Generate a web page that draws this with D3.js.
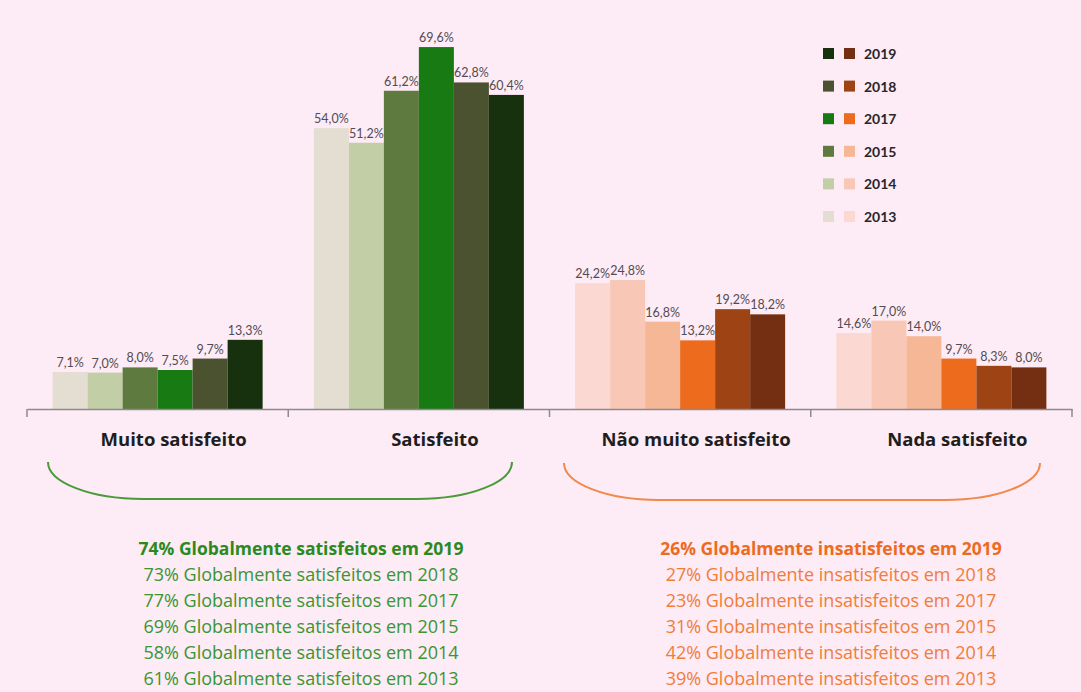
<!DOCTYPE html>
<html>
<head>
<meta charset="utf-8">
<script src="https://cdn.jsdelivr.net/npm/d3@7"></script>
<style>
  html, body { margin: 0; padding: 0; background: #fdebf5; }
  svg { display: block; }
  text { font-family: Lato, "Open Sans", sans-serif; }
  text.wide { font-family: "Open Sans", Lato, sans-serif; }
</style>
</head>
<body>
<svg id="chart" width="1081" height="692"></svg>
<script>
// Satisfaction levels and survey years
const categories = ["Muito satisfeito", "Satisfeito", "Não muito satisfeito", "Nada satisfeito"];
const years = ["2013", "2014", "2015", "2017", "2018", "2019"];

// Percentages per level, one value per year (2013 … 2019)
const muitoSatisfeito    = [7.1, 7.0, 8.0, 7.5, 9.7, 13.3];
const satisfeito         = [54.0, 51.2, 61.2, 69.6, 62.8, 60.4];
const naoMuitoSatisfeito = [24.2, 24.8, 16.8, 13.2, 19.2, 18.2];
const nadaSatisfeito     = [14.6, 17.0, 14.0, 9.7, 8.3, 8.0];
const seriesByCategory = [muitoSatisfeito, satisfeito, naoMuitoSatisfeito, nadaSatisfeito];

// Overall totals shown under the chart
const satisfiedTotals    = ["74%", "73%", "77%", "69%", "58%", "61%"];
const dissatisfiedTotals = ["26%", "27%", "23%", "31%", "42%", "39%"];
const totalYears         = ["2019", "2018", "2017", "2015", "2014", "2013"];

// Palettes: satisfied levels in greens, dissatisfied levels in oranges
const greens  = ["#e3ddd2", "#c2cea5", "#5f7a3e", "#177a12", "#4a5230", "#17300e"];
const oranges = ["#fbd8d2", "#f9c7b5", "#f6b797", "#ec6b1c", "#9e4314", "#742e12"];
const satisfiedGroup = [true, true, false, false];

const svg = d3.select("#chart");

const baseline = 409;
const x0 = d3.scaleBand().domain(categories).range([27, 1072]).padding(0);
const groupWidth = 210;
const x1 = d3.scaleBand().domain(years).range([0, groupWidth]).padding(0);
const y = d3.scaleLinear().domain([0, 70]).range([baseline, 45]);

const color = (ci, yi) => (satisfiedGroup[ci] ? greens : oranges)[yi];

// Bars and value labels
const groups = svg.selectAll("g.cat")
  .data(categories)
  .join("g")
  .attr("class", "cat")
  .attr("transform", d => `translate(${x0(d) + (x0.bandwidth() - groupWidth) / 2},0)`);

groups.each(function (cat, ci) {
  const g = d3.select(this);
  const vals = seriesByCategory[ci].map((v, i) => ({ year: years[i], v, i }));
  g.selectAll("rect")
    .data(vals)
    .join("rect")
    .attr("x", d => x1(d.year))
    .attr("width", x1.bandwidth())
    .attr("y", d => y(d.v))
    .attr("height", d => baseline - y(d.v))
    .attr("fill", d => color(ci, d.i));
  g.selectAll("text")
    .data(vals)
    .join("text")
    .attr("x", d => x1(d.year) + x1.bandwidth() / 2)
    .attr("y", d => y(d.v) - 5)
    .attr("text-anchor", "middle")
    .attr("font-size", 12.5)
    .attr("fill", "#524c52")
    .text(d => d3.format(".1f")(d.v).replace(".", ",") + "%");
});

// Category axis
const axis = d3.axisBottom(x0).tickSize(0).tickFormat("");
const axisG = svg.append("g").attr("transform", `translate(0,${baseline})`).call(axis);
axisG.select(".domain").attr("stroke", "#8c8a8e").attr("stroke-width", 1.5);
// dividers between categories
const edges = categories.map(c => x0(c)).concat([x0.range()[1]]);
axisG.selectAll("line.div")
  .data(edges)
  .join("line")
  .attr("class", "div")
  .attr("x1", d => d).attr("x2", d => d)
  .attr("y1", 0).attr("y2", 8)
  .attr("stroke", "#8c8a8e").attr("stroke-width", 1.5);

svg.selectAll("text.catlabel")
  .data(categories)
  .join("text")
  .attr("class", "catlabel wide")
  .attr("x", d => x0(d) + x0.bandwidth() / 2 + 16)
  .attr("y", 446)
  .attr("text-anchor", "middle")
  .attr("font-size", 18.5)
  .attr("font-weight", 700)
  .attr("fill", "#1e1e1e")
  .text(d => d);

// Legend
const legendYears = years.slice().reverse();
const legendY = d3.scalePoint().domain(legendYears).range([54, 217]);
const legend = svg.append("g");
legendYears.forEach((yr) => {
  const yi = years.indexOf(yr);
  const cy = legendY(yr);
  legend.append("rect").attr("x", 823).attr("y", cy - 6).attr("width", 11).attr("height", 11)
    .attr("fill", greens[yi]);
  legend.append("rect").attr("x", 844).attr("y", cy - 6).attr("width", 11).attr("height", 11)
    .attr("fill", oranges[yi]);
  legend.append("text").attr("x", 864).attr("y", cy + 5)
    .attr("font-size", 14).attr("font-weight", 700).attr("fill", "#2a2628")
    .text(yr);
});

// Brackets grouping satisfied / dissatisfied levels: quarter-ellipse corners joined by a flat bottom
function bracket(xl, xr, top, bottom) {
  const p = d3.path();
  const r = 95;
  const k = 0.5523;
  const h = bottom - top;
  p.moveTo(xl, top);
  p.bezierCurveTo(xl, top + k * h, xl + r * (1 - k), bottom, xl + r, bottom);
  p.lineTo(xr - r, bottom);
  p.bezierCurveTo(xr - r * (1 - k), bottom, xr, top + k * h, xr, top);
  return p.toString();
}
svg.append("path").attr("d", bracket(48, 512, 462, 499))
  .attr("fill", "none").attr("stroke", "#4a9a3a").attr("stroke-width", 2);
svg.append("path").attr("d", bracket(564, 1040, 463, 500))
  .attr("fill", "none").attr("stroke", "#f2884a").attr("stroke-width", 2);

// Overall totals
const lineY = d3.scalePoint().domain(totalYears).range([555, 685]);
svg.selectAll("text.sat")
  .data(totalYears)
  .join("text")
  .attr("class", "sat wide")
  .attr("x", 301)
  .attr("y", d => lineY(d))
  .attr("text-anchor", "middle")
  .attr("font-size", (d, i) => i === 0 ? 17.5 : 18)
  .attr("font-weight", (d, i) => i === 0 ? 700 : 400)
  .attr("fill", (d, i) => i === 0 ? "#2a8a1e" : "#3a9532")
  .text((d, i) => `${satisfiedTotals[i]} Globalmente satisfeitos em ${d}`);

svg.selectAll("text.insat")
  .data(totalYears)
  .join("text")
  .attr("class", "insat wide")
  .attr("x", 831)
  .attr("y", d => lineY(d))
  .attr("text-anchor", "middle")
  .attr("font-size", (d, i) => i === 0 ? 17.5 : 18)
  .attr("font-weight", (d, i) => i === 0 ? 700 : 400)
  .attr("fill", (d, i) => i === 0 ? "#ee6a1c" : "#f07d3a")
  .text((d, i) => `${dissatisfiedTotals[i]} Globalmente insatisfeitos em ${d}`);
</script>
</body>
</html>
